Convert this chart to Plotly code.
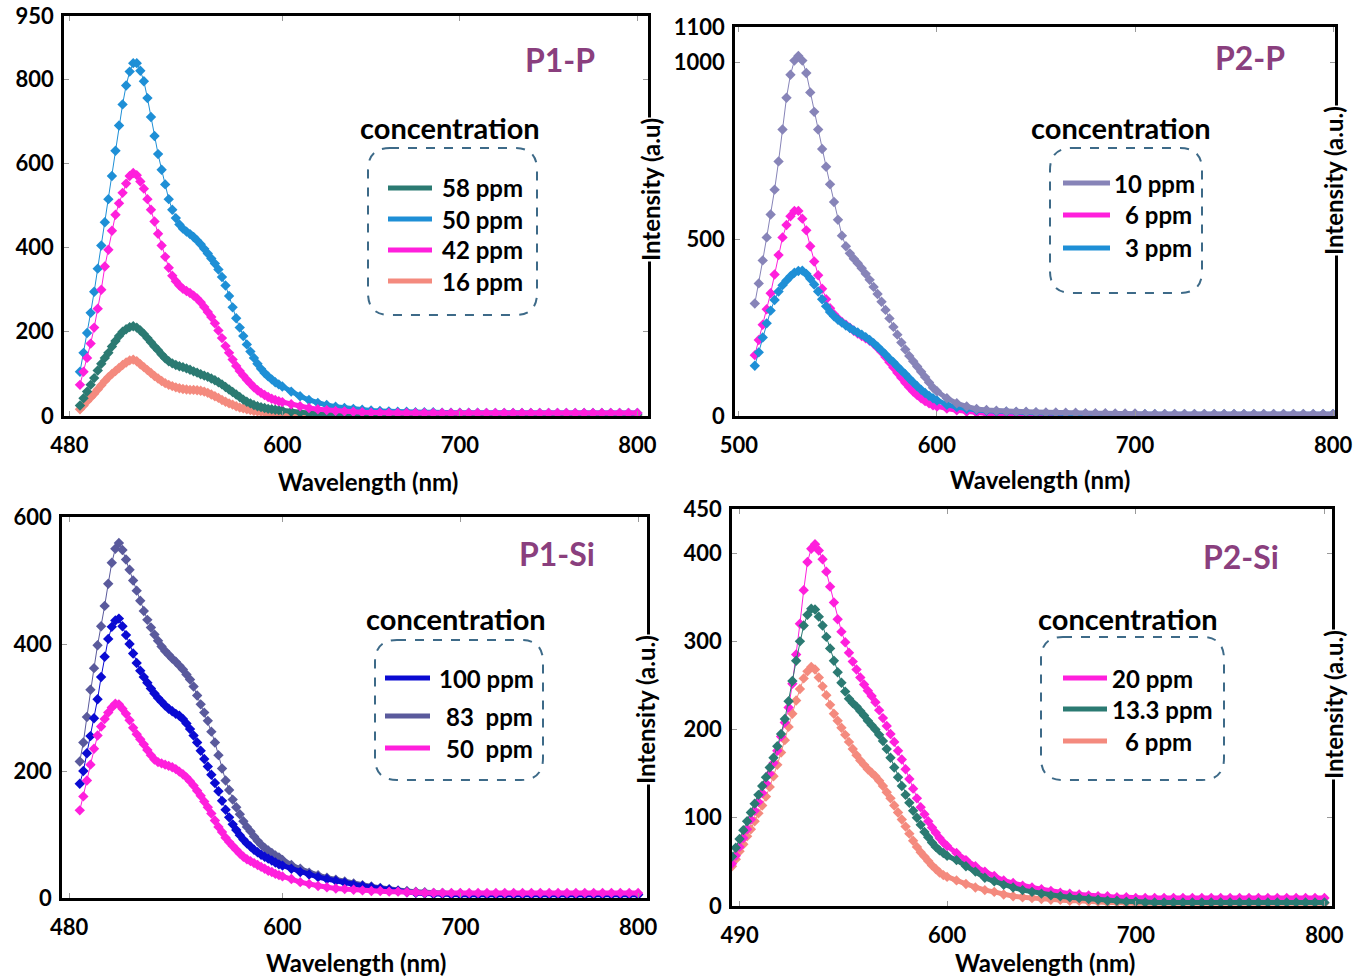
import plotly.graph_objects as go

W, H = 1354, 980
FONT = "Lato"
TITLE_COLOR = "#8a3f7e"
BOX_COLOR = "#3d6a88"

# wavelength sampling (nm): 2 nm through the emission band, 5 nm in the tail
WL_P1P = list(range(486, 600, 2)) + list(range(600, 801, 5))
WL_P2P = list(range(508, 600, 2)) + list(range(600, 801, 5))
WL_P1SI = list(range(486, 600, 2)) + list(range(600, 801, 5))
WL_P2SI = list(range(486, 600, 2)) + list(range(600, 801, 5))

# ---- P1-P emission intensities (a.u.) ----
P1P_58 = [25, 42, 58, 74, 90, 108, 124, 138, 150, 165,
          178, 190, 200, 206, 211, 213, 210, 203, 195, 185,
          175, 165, 156, 146, 137, 130, 125, 121, 118, 116,
          113, 110, 106, 103, 99, 96, 93, 89, 85, 80,
          75, 69, 63, 57, 51, 45, 39, 34, 30, 26,
          23, 21, 19, 17, 16, 15, 14,
          13, 10, 8, 6, 5, 4, 4, 3, 3, 3,
          3, 3, 3, 3, 3, 3, 3, 3, 3, 3,
          3, 3, 3, 3, 3, 3, 3, 3, 3, 3,
          3, 3, 3, 3, 3, 3, 3, 3, 3, 3,
          3]
P1P_50 = [105, 150, 197, 245, 295, 350, 405, 460, 515, 570,
          630, 690, 740, 785, 818, 838, 838, 820, 795, 755,
          710, 665, 622, 585, 550, 515, 490, 470, 455, 445,
          438, 432, 425, 417, 408, 397, 386, 374, 362, 348,
          330, 310, 285, 258, 232, 210, 190, 170, 153, 138,
          124, 112, 102, 94, 87, 80, 75,
          70, 58, 47, 38, 31, 26, 22, 19, 17, 15,
          13, 12, 11, 10, 10, 9, 9, 9, 8, 8,
          8, 8, 8, 7, 7, 7, 7, 7, 7, 7,
          7, 7, 7, 7, 7, 7, 7, 7, 7, 7,
          7]
P1P_42 = [74, 105, 138, 172, 210, 255, 300, 355, 395, 440,
          478, 505, 530, 552, 570, 577, 572, 557, 540, 515,
          490, 462, 433, 405, 378, 352, 333, 320, 310, 302,
          297, 292, 286, 279, 270, 259, 247, 235, 220, 203,
          185, 166, 150, 134, 119, 107, 96, 86, 77, 68,
          61, 55, 50, 45, 41, 38, 35,
          33, 28, 23, 19, 16, 14, 12, 11, 10, 9,
          8, 8, 7, 7, 7, 7, 7, 7, 7, 7,
          7, 7, 7, 7, 7, 7, 7, 7, 7, 7,
          7, 7, 7, 7, 7, 7, 7, 7, 7, 7,
          7]
P1P_16 = [16, 25, 35, 44, 53, 63, 73, 83, 92, 100,
          107, 114, 121, 127, 132, 134, 130, 123, 116, 109,
          102, 95, 89, 83, 78, 74, 71, 68, 66, 64,
          63, 62, 62, 61, 60, 58, 55, 51, 47, 43,
          38, 34, 30, 27, 23, 20, 18, 16, 14, 12,
          11, 10, 9, 8, 7, 6, 6,
          5, 4, 3, 3, 2, 2, 2, 2, 2, 2,
          2, 2, 2, 2, 2, 2, 2, 2, 2, 2,
          2, 2, 2, 2, 2, 2, 2, 2, 2, 2,
          2, 2, 2, 2, 2, 2, 2, 2, 2, 2,
          2]

# ---- P2-P emission intensities (a.u.) ----
P2P_10 = [318, 375, 440, 505, 570, 640, 720, 810, 900, 965,
          1005, 1018, 1005, 970, 915, 860, 810, 755, 705, 655,
          605, 555, 510, 480, 460, 445, 432, 418, 402, 385,
          365, 345, 323, 300, 276, 252, 230, 208, 188, 170,
          155, 140, 125, 110, 95, 80,
          70, 50, 36, 27, 20, 17, 15, 13, 12, 12,
          11, 10, 10, 9, 9, 8, 8, 8, 7, 7,
          7, 6, 6, 6, 6, 6, 6, 6, 6, 6,
          6, 6, 6, 6, 6, 6, 6, 6, 6, 6,
          6]
P2P_6 = [172, 215, 258, 302, 347, 400, 455, 505, 540, 565,
         580, 580, 558, 525, 480, 437, 398, 360, 330, 305,
         288, 276, 266, 258, 250, 241, 233, 226, 220, 213,
         204, 193, 181, 167, 152, 137, 122, 108, 94, 81,
         69, 59, 50, 42, 36, 30,
         27, 21, 16, 12, 9, 7, 6, 5, 4, 4,
         3, 3, 3, 3, 3, 3, 3, 3, 3, 3,
         3, 3, 3, 3, 3, 2, 2, 2, 2, 2,
         2, 2, 2, 2, 2, 2, 2, 2, 2, 2,
         2]
P2P_3 = [142, 180, 222, 262, 298, 328, 352, 370, 383, 395,
         405, 410, 411, 402, 388, 372, 352, 330, 310, 294,
         282, 272, 264, 256, 249, 242, 236, 230, 223, 215,
         206, 196, 185, 174, 162, 152, 140, 129, 118, 106,
         95, 84, 74, 65, 57, 50,
         44, 32, 25, 20, 17, 15, 13, 12, 11, 10,
         9, 8, 8, 7, 7, 6, 6, 6, 5, 5,
         5, 5, 5, 5, 5, 5, 5, 5, 5, 5,
         5, 5, 5, 5, 5, 5, 5, 5, 5, 5,
         5]

# ---- P1-Si emission intensities (a.u.) ----
P1SI_100 = [180, 200, 228, 255, 283, 313, 348, 380, 408, 427,
            437, 440, 428, 414, 400, 385, 370, 358, 348, 339,
            330, 322, 315, 309, 303, 298, 294, 290, 287, 282,
            275, 266, 256, 245, 232, 219, 207, 194, 181, 168,
            153, 139, 127, 116, 107, 99, 92, 86, 81, 76,
            72, 68, 65, 62, 59, 56, 53,
            51, 46, 41, 37, 33, 30, 27, 24, 21, 19,
            17, 15, 13, 11, 9, 8, 7, 6, 6, 5,
            5, 5, 5, 5, 5, 5, 5, 5, 5, 5,
            5, 5, 5, 5, 5, 5, 5, 5, 5, 5,
            5]
P1SI_83 = [215, 245, 285, 328, 362, 398, 428, 460, 495, 528,
           550, 559, 548, 533, 517, 500, 484, 468, 452, 438,
           426, 415, 405, 396, 389, 383, 377, 372, 366, 360,
           352, 344, 333, 319, 305, 292, 279, 262, 245, 225,
           204, 185, 170, 155, 143, 132, 121, 112, 105, 97,
           90, 84, 79, 75, 71, 67, 64,
           60, 52, 46, 40, 36, 32, 29, 26, 23, 20,
           18, 16, 14, 12, 11, 10, 9, 8, 8, 7,
           7, 6, 6, 6, 6, 6, 6, 6, 6, 6,
           6, 6, 6, 6, 6, 6, 6, 6, 6, 6,
           6]
P1SI_50 = [138, 160, 185, 210, 235, 256, 270, 282, 292, 300,
           306, 305, 298, 290, 280, 268, 258, 250, 242, 233,
           225, 218, 214, 212, 210, 208, 206, 203, 199, 195,
           190, 184, 177, 169, 161, 152, 143, 133, 122, 112,
           104, 95, 88, 82, 76, 70, 65, 61, 58, 55,
           52, 49, 46, 43, 41, 38, 36,
           34, 30, 25, 22, 19, 17, 15, 14, 13, 12,
           11, 11, 10, 10, 9, 9, 8, 8, 8, 8,
           8, 8, 8, 8, 8, 8, 8, 8, 8, 8,
           8, 8, 8, 8, 8, 8, 8, 8, 8, 8,
           8]

# ---- P2-Si emission intensities (a.u.) ----
P2SI_20 = [48, 57, 67, 77, 87, 98, 108, 118, 128, 139,
           150, 162, 176, 192, 208, 225, 252, 285, 320, 358,
           390, 405, 410, 403, 393, 379, 362, 344, 325, 311,
           299, 287, 277, 268, 259, 251, 244, 238, 231, 222,
           213, 204, 195, 186, 176, 166, 155, 144, 133, 122,
           112, 104, 96, 89, 83, 77, 72,
           68, 60, 52, 45, 39, 34, 29, 26, 23, 21,
           19, 17, 15, 14, 13, 12, 11, 11, 10, 10,
           9, 9, 9, 9, 9, 9, 9, 9, 9, 9,
           9, 9, 9, 9, 9, 9, 9, 9, 9, 9,
           9]
P2SI_13 = [56, 66, 76, 86, 96, 106, 116, 126, 136, 146,
           157, 168, 181, 195, 212, 232, 255, 278, 300, 318,
           330, 337, 336, 328, 318, 305, 292, 278, 265, 253,
           243, 235, 230, 226, 221, 216, 210, 205, 200, 194,
           187, 178, 168, 157, 146, 136, 126, 117, 108, 100,
           92, 84, 78, 72, 67, 63, 60,
           57, 52, 45, 39, 32, 28, 24, 21, 18, 16,
           14, 12, 11, 10, 9, 8, 7, 6, 6, 5,
           5, 4, 4, 4, 4, 4, 4, 4, 4, 4,
           4, 4, 4, 4, 4, 4, 4, 4, 4, 4,
           4]
P2SI_6 = [45, 53, 62, 70, 79, 87, 96, 105, 114, 124,
          135, 147, 160, 174, 188, 203, 218, 233, 246, 258,
          266, 271, 268, 259, 249, 239, 228, 218, 210, 202,
          194, 186, 178, 171, 165, 160, 155, 151, 147, 142,
          136, 129, 122, 114, 106, 98, 90, 82, 74, 67,
          61, 56, 51, 46, 42, 38, 35,
          33, 29, 25, 21, 18, 16, 13, 11, 10, 9,
          8, 7, 7, 6, 6, 5, 5, 4, 4, 3,
          3, 3, 3, 3, 3, 3, 3, 3, 3, 3,
          3, 3, 3, 3, 3, 3, 3, 3, 3, 3,
          3]

# tick labels
X_TICKS = [[480, 600, 700, 800], [500, 600, 700, 800],
           [480, 600, 700, 800], [490, 600, 700, 800]]
Y_TICKS = [[0, 200, 400, 600, 800, 950], [0, 500, 1000, 1100],
           [0, 200, 400, 600], [0, 100, 200, 300, 400, 450]]

TEAL, SKY, MAGENTA, SALMON = "#2b7a72", "#1e8fd6", "#ff1fdc", "#f48a7e"
LAVENDER, ROYAL, SLATE = "#8784b8", "#0a0ad2", "#5a5a9c"

# panel geometry in page pixels: (left, top, right, bottom), axis ranges
PANELS = [
    dict(box=(64, 16, 648, 416), xr=[477, 806], yr=[0, 950], title="P1-P",
         title_xy=(560, 60), ylabel="Intensity (a.u)", ylabel_xy=(650, 190),
         xlabel_xy=(368, 481), conc_xy=(450, 127), legbox=(368, 148, 537, 315),
         series=[("16 ppm", WL_P1P, P1P_16, SALMON), ("58 ppm", WL_P1P, P1P_58, TEAL),
                 ("50 ppm", WL_P1P, P1P_50, SKY), ("42 ppm", WL_P1P, P1P_42, MAGENTA)],
         legend=[("58 ppm", TEAL, 188, 441), ("50 ppm", SKY, 219, 441),
                 ("42 ppm", MAGENTA, 250, 441), ("16 ppm", SALMON, 281, 441)],
         legline=(388, 432)),
    dict(box=(735, 27, 1335, 416), xr=[498, 801], yr=[0, 1100], title="P2-P",
         title_xy=(1250, 57), ylabel="Intensity (a.u.)", ylabel_xy=(1333, 181),
         xlabel_xy=(1040, 479), conc_xy=(1121, 127), legbox=(1050, 148, 1202, 293),
         series=[("6 ppm", WL_P2P, P2P_6, MAGENTA), ("3 ppm", WL_P2P, P2P_3, SKY),
                 ("10 ppm", WL_P2P, P2P_10, LAVENDER)],
         legend=[("10 ppm", LAVENDER, 183, 1113), ("6 ppm", MAGENTA, 215, 1124),
                 ("3 ppm", SKY, 248, 1124)],
         legline=(1063, 1110)),
    dict(box=(62, 517, 647, 898), xr=[476, 805], yr=[0, 600], title="P1-Si",
         title_xy=(557, 553), ylabel="Intensity (a.u.)", ylabel_xy=(645, 710),
         xlabel_xy=(356, 962), conc_xy=(456, 618), legbox=(375, 640, 543, 780),
         series=[("83 ppm", WL_P1SI, P1SI_83, SLATE), ("100 ppm", WL_P1SI, P1SI_100, ROYAL),
                 ("50 ppm", WL_P1SI, P1SI_50, MAGENTA)],
         legend=[("100 ppm", ROYAL, 678, 438), ("83\u00a0 ppm", SLATE, 716, 445),
                 ("50\u00a0 ppm", MAGENTA, 748, 445)],
         legline=(385, 430)),
    dict(box=(732, 509, 1332, 906), xr=[486, 804], yr=[0, 450], title="P2-Si",
         title_xy=(1241, 556), ylabel="Intensity (a.u.)", ylabel_xy=(1333, 705),
         xlabel_xy=(1045, 962), conc_xy=(1128, 618), legbox=(1041, 637, 1224, 780),
         series=[("6 ppm", WL_P2SI, P2SI_6, SALMON), ("20 ppm", WL_P2SI, P2SI_20, MAGENTA),
                 ("13.3 ppm", WL_P2SI, P2SI_13, TEAL)],
         legend=[("20 ppm", MAGENTA, 678, 1111), ("13.3 ppm", TEAL, 709, 1111),
                 ("6 ppm", SALMON, 741, 1124)],
         legline=(1063, 1107)),
]


def fx(x):
    return x / W


def fy(y):
    return 1 - y / H


def rounded_box(x0, y0, x1, y1, r):
    pts = [
        f"M{fx(x0 + r)},{fy(y0)}", f"L{fx(x1 - r)},{fy(y0)}",
        f"Q{fx(x1)},{fy(y0)} {fx(x1)},{fy(y0 + r)}", f"L{fx(x1)},{fy(y1 - r)}",
        f"Q{fx(x1)},{fy(y1)} {fx(x1 - r)},{fy(y1)}", f"L{fx(x0 + r)},{fy(y1)}",
        f"Q{fx(x0)},{fy(y1)} {fx(x0)},{fy(y1 - r)}", f"L{fx(x0)},{fy(y0 + r)}",
        f"Q{fx(x0)},{fy(y0)} {fx(x0 + r)},{fy(y0)}", "Z",
    ]
    return " ".join(pts)


def text(t, x, y, size, color="black", xanchor="center", angle=0, bg="rgba(0,0,0,0)"):
    return dict(text=t, x=fx(x), y=fy(y), xref="paper", yref="paper", showarrow=False,
                xanchor=xanchor, yanchor="middle", textangle=angle, bgcolor=bg, borderpad=0,
                font=dict(family=FONT, size=size, color=color, weight="bold"))


fig = go.Figure()
layout = dict(width=W, height=H, autosize=False, margin=dict(l=0, r=0, t=0, b=0, pad=0),
              paper_bgcolor="white", plot_bgcolor="white", showlegend=False)
shapes, annotations = [], []

for i, p in enumerate(PANELS, start=1):
    sfx = "" if i == 1 else str(i)
    left, top, right, bottom = p["box"]
    axis_common = dict(showline=True, linecolor="black", linewidth=2.5, mirror="ticks",
                       ticks="inside", ticklen=5, tickwidth=1, tickcolor="#9a9a9a",
                       showgrid=False, zeroline=False, automargin=False,
                       tickfont=dict(family=FONT, size=22, color="black", weight="bold"))
    layout["xaxis" + sfx] = dict(axis_common, domain=[fx(left), fx(right)], range=p["xr"],
                                 anchor="y" + sfx, tickvals=X_TICKS[i - 1],
                                 ticklabelstandoff=8)
    layout["yaxis" + sfx] = dict(axis_common, domain=[fy(bottom), fy(top)], range=p["yr"],
                                 anchor="x" + sfx, tickvals=Y_TICKS[i - 1],
                                 ticklabelstandoff=3)

    for name, wl, vals, color in p["series"]:
        assert len(wl) == len(vals), (p["title"], name, len(wl), len(vals))
        fig.add_trace(go.Scatter(
            x=wl, y=vals, name=name, mode="lines+markers",
            line=dict(color=color, width=1),
            marker=dict(symbol="diamond", size=8, color=color, line=dict(width=0)),
            xaxis="x" + sfx, yaxis="y" + sfx))
        # the long-wavelength tail is sampled densely, so it reads as a solid band
        k = wl.index(598)
        fig.add_trace(go.Scatter(
            x=wl[k:], y=vals[k:], name=name, mode="lines",
            line=dict(color=color, width=5), hoverinfo="skip",
            xaxis="x" + sfx, yaxis="y" + sfx))

    annotations.append(text(p["title"], *p["title_xy"], 32, TITLE_COLOR))
    annotations.append(text("concentration", *p["conc_xy"], 29))
    annotations.append(text("Wavelength (nm)", *p["xlabel_xy"], 24))
    annotations.append(text(p["ylabel"], *p["ylabel_xy"], 24, angle=-90, bg="white"))

    shapes.append(dict(type="path", xref="paper", yref="paper",
                       path=rounded_box(*p["legbox"], 22),
                       line=dict(color=BOX_COLOR, width=2, dash="dash")))
    lx0, lx1 = p["legline"]
    for label, color, y, tx in p["legend"]:
        shapes.append(dict(type="line", xref="paper", yref="paper",
                           x0=fx(lx0), x1=fx(lx1), y0=fy(y), y1=fy(y),
                           line=dict(color=color, width=5)))
        annotations.append(text(label, tx, y, 24, xanchor="left"))

layout["shapes"] = shapes
layout["annotations"] = annotations
fig.update_layout(**layout)
fig.write_html("out.html", config={"displayModeBar": False})
